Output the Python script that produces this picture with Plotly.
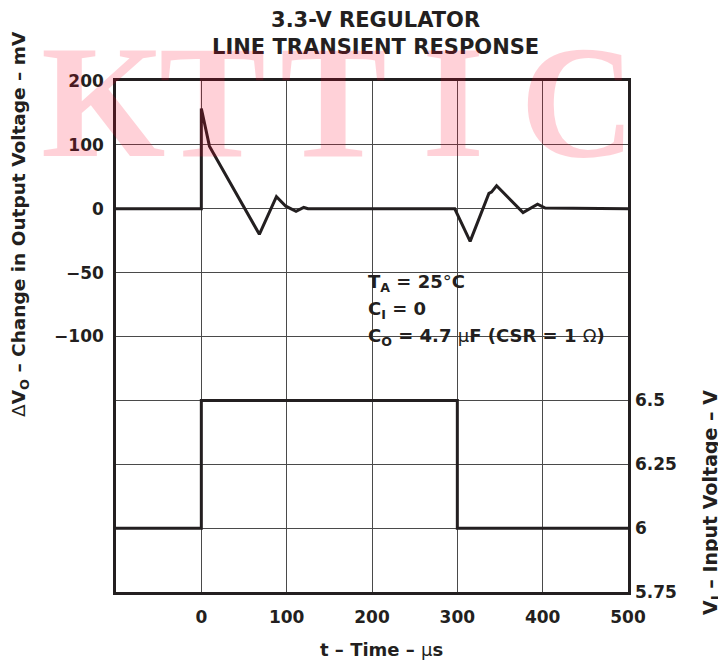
import plotly.graph_objects as go

# ── Data ──────────────────────────────────────────────────────────────────────

# output-voltage trace, plotted on the left axis (50 units per division)
T_OUT_US = [-100, 0, 0, 9.5, 68, 88, 99, 111, 120, 125,
            297, 315, 337, 340, 346, 377, 394, 403, 500]
DVO = [0, 0, 78.5, 49, -20, 9.5, 2, -2, 1, 0,
       0, -25.5, 12, 13, 18, -3, 3.5, 0.5, 0]

# input-voltage step, plotted on the right axis
T_IN_US = [-100, 0, 0, 300, 300, 500]
VI = [6, 6, 6.5, 6.5, 6, 6]

X_TICKS = [0, 100, 200, 300, 400, 500]
DVO_GRID = [-250, -200, -150, -100, -50, 0, 50, 100]
DVO_LABELS = ["", "", "", "−100", "−50", "0", "100", "200"]
VI_TICKS = [5.75, 6, 6.25, 6.5]
VI_LABELS = ["5.75", "6", "6.25", "6.5"]

# ── Styling ───────────────────────────────────────────────────────────────────

INK = "#231F20"
GRID = "#4A4A4A"
FONT = "DejaVu Sans"
WM = "rgba(255, 0, 40, 0.18)"

# page has an 8px body margin, so the figure is shrunk and shifted by it
OFF = 8
W, H = 726 - OFF, 662 - OFF
L, T = 116 - OFF, 81 - OFF
R, B = 726 - 628, 662 - 592
PW, PH = W - L - R, H - T - B


def px(x, y):
    """page pixel position -> paper coords"""
    return (x - OFF - L) / PW, (H - B - (y - OFF)) / PH


fig = go.Figure()
fig.add_trace(go.Scatter(
    x=T_OUT_US, y=DVO, mode="lines",
    line=dict(color=INK, width=3), yaxis="y", showlegend=False,
))
fig.add_trace(go.Scatter(
    x=T_IN_US, y=VI, mode="lines",
    line=dict(color=INK, width=3), yaxis="y2", showlegend=False,
))

ann = []

# title
tx, ty = px(375, 33)
ann.append(dict(
    text="<b>3.3-V REGULATOR<br>LINE TRANSIENT RESPONSE</b>",
    x=tx, y=ty, xref="paper", yref="paper", showarrow=False,
    xanchor="center", yanchor="middle",
    font=dict(size=21, color=INK, family=FONT),
))

# conditions box
for text, yy in [
    ("<b>T<sub>A</sub> = 25</b>°<b>C</b>", 283),
    ("<b>C<sub>I</sub> = 0</b>", 310),
    ("<b>C<sub>O</sub> = 4.7 </b>μ<b>F (CSR = 1 </b>Ω<b>)</b>", 337),
]:
    ax_, ay_ = px(366, yy)
    ann.append(dict(
        text=text, x=ax_, y=ay_, xref="paper", yref="paper", showarrow=False,
        xanchor="left", yanchor="middle",
        font=dict(size=18, color=INK, family=FONT),
    ))

# axis titles
lx, ly = px(20, 224)
ann.append(dict(
    text="Δ<b>V<sub>O</sub> – Change in Output Voltage – mV</b>",
    x=lx, y=ly, xref="paper", yref="paper", showarrow=False, textangle=-90,
    xanchor="center", yanchor="middle",
    font=dict(size=18.5, color=INK, family=FONT),
))
rx, ry = px(711, 503)
ann.append(dict(
    text="<b>V<sub>I</sub> – Input Voltage – V</b>",
    x=rx, y=ry, xref="paper", yref="paper", showarrow=False, textangle=-90,
    xanchor="center", yanchor="middle",
    font=dict(size=19, color=INK, family=FONT),
))
bx, by = px(381, 650)
ann.append(dict(
    text="<b>t – Time – </b>μ<b>s</b>",
    x=bx, y=by, xref="paper", yref="paper", showarrow=False,
    xanchor="center", yanchor="middle",
    font=dict(size=18, color=INK, family=FONT),
))

# watermark
for ch, cx in zip("KTTIC", [103, 212, 333, 453, 578]):
    wx, wy = px(cx, 102)
    ann.append(dict(
        text=ch, x=wx, y=wy, xref="paper", yref="paper", showarrow=False,
        xanchor="center", yanchor="middle",
        font=dict(size=160, color=WM, family="Liberation Serif", weight="bold"),
    ))

bx0, by0 = px(352, 355)
bx1, by1 = px(626, 262)

fig.update_layout(
    width=W, height=H,
    margin=dict(l=L, r=R, t=T, b=B),
    paper_bgcolor="white",
    plot_bgcolor="white",
    font=dict(family=FONT, color=INK),
    xaxis=dict(
        range=[-100, 500], tickvals=X_TICKS,
        showgrid=True, gridcolor=GRID, gridwidth=1,
        showline=True, linecolor=INK, linewidth=2.5, mirror=True,
        zeroline=False, ticks="", ticklabelstandoff=8,
        tickfont=dict(size=17, weight="bold", color=INK),
    ),
    yaxis=dict(
        range=[-300, 100], tickvals=DVO_GRID, ticktext=DVO_LABELS,
        showgrid=True, gridcolor=GRID, gridwidth=1,
        showline=True, linecolor=INK, linewidth=2.5, mirror=True,
        zeroline=False, ticks="", ticklabelstandoff=6,
        tickfont=dict(size=17, weight="bold", color=INK),
    ),
    yaxis2=dict(
        range=[5.75, 7.75], tickvals=VI_TICKS, ticktext=VI_LABELS,
        overlaying="y", side="right", showgrid=False, zeroline=False,
        ticks="", ticklabelstandoff=6,
        tickfont=dict(size=17, weight="bold", color=INK),
    ),
    shapes=[dict(
        type="rect", xref="paper", yref="paper",
        x0=bx0, x1=bx1, y0=by0, y1=by1,
        fillcolor="white", line=dict(width=0), layer="between",
    )],
    annotations=ann,
)

fig.write_html("out.html")
